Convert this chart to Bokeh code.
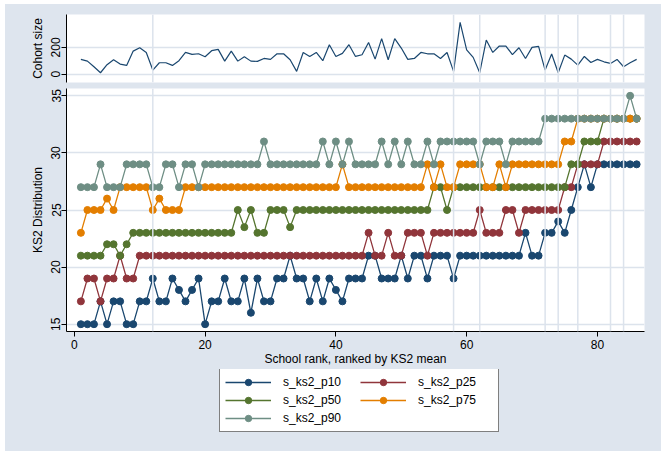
from bokeh.plotting import figure
from bokeh.models import Span, Legend, LegendItem, FixedTicker, Spacer, Range1d
from bokeh.layouts import column, row
from bokeh.embed import file_html
from bokeh.resources import INLINE

# School rank (ordered by mean KS2 score)
rank = list(range(1, 87))

# Pupils in each school's cohort
cohort_size = [110, 97, 55, 10, 70, 107, 75, 65, 172, 197,
               162, 30, 85, 85, 65, 100, 162, 147, 152, 130,
               175, 185, 97, 172, 97, 130, 97, 95, 117, 110,
               152, 152, 107, 20, 162, 132, 162, 100, 220, 132,
               155, 220, 132, 145, 237, 112, 265, 107, 265, 195,
               110, 117, 162, 152, 152, 117, 162, 20, 387, 182,
               125, 10, 255, 162, 210, 210, 145, 197, 117, 200,
               207, 30, 150, 10, 142, 112, 67, 132, 87, 110,
               92, 80, 110, 55, 85, 110]

# KS2 distribution percentiles per school
s_ks2_p10 = [15, 15, 15, 17, 15, 17, 17, 15, 15, 17,
             17, 19, 17, 17, 19, 18, 17, 18, 19, 15,
             17, 17, 19, 17, 17, 19, 16, 19, 17, 17,
             19, 19, 21, 19, 19, 17, 19, 17, 19, 18,
             17, 19, 19, 19, 21, 21, 19, 19, 19, 21,
             19, 21, 21, 19, 21, 21, 21, 19, 21, 21,
             21, 21, 21, 21, 21, 21, 21, 21, 23, 21,
             21, 23, 23, 24, 23, 25, 27, 29, 27, 29,
             29, 29, 29, 29, 29, 29]
s_ks2_p25 = [17, 19, 19, 17, 19, 19, 21, 19, 19, 21,
             21, 21, 21, 21, 21, 21, 21, 21, 21, 21,
             21, 21, 21, 21, 21, 21, 21, 21, 21, 21,
             21, 21, 21, 21, 21, 21, 21, 21, 21, 21,
             21, 21, 21, 21, 23, 21, 21, 23, 21, 21,
             23, 23, 23, 21, 23, 23, 23, 23, 23, 23,
             23, 25, 23, 23, 23, 25, 25, 23, 25, 25,
             25, 25, 25, 25, 27, 27, 29, 29, 29, 29,
             31, 31, 31, 31, 31, 31]
s_ks2_p50 = [21, 21, 21, 21, 22, 22, 21, 22, 23, 23,
             23, 23, 23, 23, 23, 23, 23, 23, 23, 23,
             23, 23, 23, 23, 25, 23.5, 25, 23, 23, 25,
             25, 25, 23.5, 25, 25, 25, 25, 25, 25, 25,
             25, 25, 25, 25, 25, 25, 25, 25, 25, 25,
             25, 25, 25, 25, 27, 27, 25, 27, 27, 27,
             27, 27, 27, 27, 27, 27, 27, 27, 27, 27,
             27, 27, 27, 27, 27, 29, 29, 31, 31, 31,
             33, 33, 33, 33, 33, 33]
s_ks2_p75 = [23, 25, 25, 25, 26, 25, 27, 27, 27, 27,
             27, 25, 26, 25, 25, 25, 27, 27, 27, 27,
             27, 27, 27, 27, 27, 27, 27, 27, 27, 27,
             27, 27, 27, 27, 27, 27, 27, 27, 27, 27,
             29, 27, 27, 27, 27, 27, 27, 27, 27, 27,
             27, 27, 27, 29, 27, 29, 27, 27, 29, 29,
             29, 29, 27, 27, 29, 27, 29, 29, 29, 29,
             29, 29, 29, 29, 31, 31, 33, 33, 33, 33,
             33, 33, 33, 33, 33, 33]
s_ks2_p90 = [27, 27, 27, 29, 27, 27, 27, 29, 29, 29,
             29, 27, 27, 29, 29, 27, 29, 29, 27, 29,
             29, 29, 29, 29, 29, 29, 29, 29, 31, 29,
             29, 29, 29, 29, 29, 29, 29, 31, 29, 31,
             29, 31, 29, 29, 29, 29, 31, 29, 31, 29,
             31, 29, 29, 31, 29, 31, 31, 31, 31, 31,
             31, 29, 31, 31, 31, 29, 31, 31, 31, 31,
             31, 33, 33, 33, 33, 33, 33, 33, 33, 33,
             33, 33, 33, 33, 35, 33]

series_names = ["s_ks2_p10", "s_ks2_p25", "s_ks2_p50", "s_ks2_p75", "s_ks2_p90"]
series_values = [s_ks2_p10, s_ks2_p25, s_ks2_p50, s_ks2_p75, s_ks2_p90]
series_colors = ["#1A476F", "#90353B", "#55752F", "#E37E00", "#6E8E84"]

# Ranks highlighted with reference lines in both panels
marked_ranks = [12, 58, 62, 72, 74, 77, 82, 84]

x_ticks = [0, 20, 40, 60, 80]
ks2_ticks = [15, 20, 25, 30, 35]
cohort_ticks = [0, 200]

BG = "#DEE5EE"
GRID = "#DCE3EC"
FONT = "Liberation Sans"
FS = "12px"

x_rng = Range1d(-1.2, 87.2)


def style_axis(ax, vertical=False):
    ax.axis_line_color = "black"
    ax.axis_line_width = 1
    ax.major_tick_line_color = "black"
    ax.major_tick_in = 0
    ax.major_tick_out = 5
    ax.minor_tick_line_color = None
    ax.major_label_text_font = FONT
    ax.major_label_text_font_size = FS
    ax.major_label_text_color = "black"
    ax.axis_label_text_font = FONT
    ax.axis_label_text_font_size = FS
    ax.axis_label_text_font_style = "normal"
    ax.axis_label_text_color = "black"
    if vertical:
        ax.major_label_orientation = "vertical"
        ax.major_label_standoff = 1
        ax.axis_label_standoff = 4


# ---- top panel: cohort size ----
top = figure(frame_width=578, frame_height=68, x_range=x_rng, y_range=(-63, 446),
             output_backend="svg", toolbar_location=None, x_axis_location=None,
             min_border_left=61, min_border_right=17, min_border_top=10, min_border_bottom=3,
             background_fill_color="white", border_fill_color=BG, outline_line_color=None)
top.yaxis.ticker = FixedTicker(ticks=cohort_ticks)
top.yaxis.axis_label = "Cohort size"
style_axis(top.yaxis[0], vertical=True)
top.xgrid.visible = False
top.ygrid.ticker = FixedTicker(ticks=cohort_ticks)
top.ygrid.grid_line_color = GRID
top.ygrid.grid_line_width = 1.5
for r in marked_ranks:
    top.add_layout(Span(location=r, dimension="height", line_color=GRID, line_width=1.5))
top.line(rank, cohort_size, line_color="#1A476F", line_width=1.2)

# ---- bottom panel: KS2 distribution ----
bot = figure(frame_width=578, frame_height=243, x_range=x_rng, y_range=(14.36, 35.64),
             output_backend="svg", toolbar_location=None,
             min_border_left=61, min_border_right=17, min_border_top=3, min_border_bottom=38,
             background_fill_color="white", border_fill_color=BG, outline_line_color=None)
bot.xaxis.ticker = FixedTicker(ticks=x_ticks)
bot.yaxis.ticker = FixedTicker(ticks=ks2_ticks)
bot.xaxis.axis_label = "School rank, ranked by KS2 mean"
bot.yaxis.axis_label = "KS2 Distribution"
style_axis(bot.xaxis[0])
style_axis(bot.yaxis[0], vertical=True)
bot.xaxis.major_label_standoff = 3
bot.xaxis.axis_label_standoff = 0
bot.xgrid.grid_line_color = None
bot.ygrid.ticker = FixedTicker(ticks=ks2_ticks)
bot.ygrid.grid_line_color = GRID
bot.ygrid.grid_line_width = 1.5
for r in marked_ranks:
    bot.add_layout(Span(location=r, dimension="height", line_color=GRID, line_width=1.5))

for vals, col in zip(series_values, series_colors):
    bot.line(rank, vals, line_color=col, line_width=1.3)
    bot.scatter(rank, vals, size=7, fill_color=col, line_color=col)

# ---- key strip beneath the panels ----
key = figure(frame_width=656, frame_height=82, output_backend="svg", toolbar_location=None,
             min_border=0, x_axis_location=None, y_axis_location=None,
             background_fill_color=BG, border_fill_color=BG, outline_line_color=None)
key.grid.visible = False
items = []
for name, vals, col in zip(series_names, series_values, series_colors):
    # hidden copies of each series that only supply the legend swatches
    kl = key.line(rank, vals, line_color=col, line_width=1.3, visible=False)
    ks = key.scatter(rank, vals, size=7, fill_color=col, line_color=col, visible=False)
    items.append(LegendItem(label=name, renderers=[kl, ks]))

legend = Legend(items=items, orientation="horizontal", ncols=2, location=(214, 19),
                border_line_color="black", border_line_width=1,
                background_fill_color="white", background_fill_alpha=1,
                inactive_fill_alpha=0,
                label_text_font=FONT, label_text_font_size=FS, label_text_color="black",
                glyph_width=46, glyph_height=16, label_height=16, label_width=75,
                label_standoff=12, spacing=2, padding=5, margin=0)
key.add_layout(legend, "center")

panels = column(top, bot, key, spacing=0, styles={"background-color": BG})
page = row(Spacer(width=5),
           column(Spacer(height=4), panels, spacing=0),
           spacing=0)

open("out.html", "w").write(file_html(page, INLINE))
